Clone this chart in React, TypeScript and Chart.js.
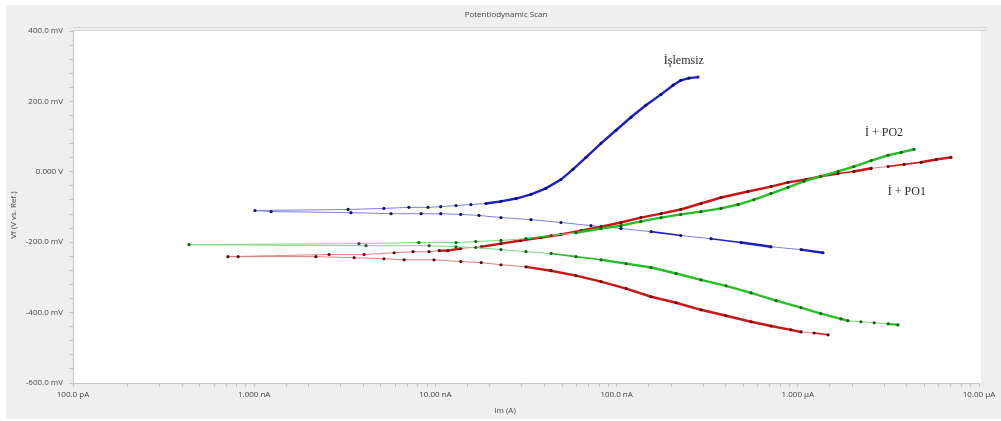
import { useEffect, useRef } from "react";
import { Chart, registerables } from "chart.js";

Chart.register(...registerables);

const chartTitle = "Potentiodynamic Scan";
const xAxisTitle = "Im (A)";
const yAxisTitle = "Vf (V vs. Ref.)";

const xTickLabels = ["100.0 pA", "1.000 nA", "10.00 nA", "100.0 nA", "1.000 µA", "10.00 µA"];
const yTickValues = [-600, -400, -200, 0, 200, 400];
const yTickLabels = ["-600.0 mV", "-400.0 mV", "-200.0 mV", "0.000 V", "200.0 mV", "400.0 mV"];

const seriesNames = ["İşlemsiz", "İ + PO1", "İ + PO2"];

// İşlemsiz (blue): current in A, potential in mV, in scan order
const untreatedCurrent = [
  1.377e-6, 1.042e-6, 7.11e-7, 4.86e-7, 3.32e-7, 2.26e-7, 1.55e-7, 1.057e-7, 7.22e-8, 4.93e-8,
  3.37e-8, 2.3e-8, 1.74e-8, 1.38e-8, 1.07e-8, 8.34e-9, 5.69e-9, 3.42e-9, 1.24e-9, 1.01e-9,
  3.3e-9, 5.2e-9, 7.14e-9, 9.1e-9, 1.07e-8, 1.3e-8, 1.57e-8, 1.9e-8, 2.3e-8, 2.79e-8,
  3.37e-8, 4.07e-8, 4.93e-8, 5.74e-8, 6.78e-8, 8.2e-8, 9.93e-8, 1.2e-7, 1.45e-7, 1.76e-7,
  2.05e-7, 2.26e-7, 2.51e-7, 2.81e-7,
];
const untreatedPotential = [
  -230, -221, -213, -201, -190, -181, -170, -161, -153, -144,
  -136, -130, -124, -121, -119, -119, -119, -116, -113, -110,
  -107, -104, -101, -101, -99, -96, -93, -90, -84, -76,
  -64, -47, -22, 7, 41, 81, 118, 155, 189, 220,
  246, 260, 266, 269,
];

// İ + PO1 (red)
const po1Current = [
  1.47e-6, 1.23e-6, 1.042e-6, 9.16e-7, 7.11e-7, 5.52e-7, 4.02e-7, 2.92e-7, 2.13e-7, 1.55e-7,
  1.13e-7, 8.2e-8, 5.97e-8, 4.35e-8, 3.16e-8, 2.3e-8, 1.79e-8, 1.38e-8, 9.82e-9, 6.72e-9,
  5.2e-9, 3.56e-9, 2.19e-9, 8.15e-10, 7.16e-10,
  2.59e-9, 4.04e-9, 5.92e-9, 7.52e-9, 9.23e-9, 1.05e-8, 1.17e-8, 1.38e-8, 1.79e-8, 2.3e-8,
  2.96e-8, 3.83e-8, 4.93e-8, 6.37e-8, 8.2e-8, 1.057e-7, 1.36e-7, 1.76e-7, 2.26e-7, 2.92e-7,
  3.77e-7, 5.31e-7, 7.11e-7, 8.83e-7, 1.11e-6, 1.34e-6, 1.67e-6, 2.04e-6, 2.54e-6, 3.15e-6,
  3.86e-6, 4.79e-6, 5.8e-6, 7.0e-6,
];
const po1Potential = [
  -463, -458, -455, -449, -438, -426, -409, -392, -372, -355,
  -332, -312, -295, -281, -270, -264, -258, -255, -250, -250,
  -247, -244, -241, -241, -241,
  -235, -235, -230, -227, -227, -224, -224, -218, -213, -204,
  -195, -187, -178, -167, -156, -144, -130, -119, -107, -90,
  -73, -56, -42, -30, -22, -13, -5, 1, 10, 15,
  21, 27, 35, 41,
];

// İ + PO2 (green)
const po2Current = [
  3.57e-6, 3.15e-6, 2.64e-6, 2.23e-6, 1.89e-6, 1.73e-6, 1.34e-6, 1.042e-6, 7.59e-7, 5.52e-7,
  4.02e-7, 2.92e-7, 2.13e-7, 1.55e-7, 1.13e-7, 8.2e-8, 5.97e-8, 4.35e-8, 3.16e-8, 2.3e-8,
  1.67e-8, 1.3e-8, 9.23e-9, 4.14e-9, 4.37e-10,
  3.79e-9, 8.11e-9, 1.3e-8, 1.67e-8, 2.3e-8, 3.16e-8, 4.35e-8, 5.97e-8, 8.2e-8, 1.057e-7,
  1.36e-7, 1.76e-7, 2.26e-7, 2.92e-7, 3.77e-7, 4.68e-7, 5.73e-7, 7.11e-7, 8.83e-7, 1.08e-6,
  1.34e-6, 1.67e-6, 2.04e-6, 2.54e-6, 3.15e-6, 3.72e-6, 4.38e-6,
];
const po2Potential = [
  -435, -432, -429, -426, -423, -418, -403, -386, -366, -344,
  -324, -307, -289, -272, -261, -250, -241, -232, -227, -221,
  -215, -213, -210, -210, -207,
  -204, -201, -201, -198, -195, -190, -181, -173, -161, -153,
  -141, -130, -121, -113, -104, -93, -79, -62, -44, -27,
  -13, 1, 15, 32, 47, 55, 64,
];

// curve labels placed in data space
const labelCurrents = [2.35e-7, 4.0e-6, 2.99e-6];
const labelPotentials = [314, -56, 112];

// segment density class: 0 = sparse (flat, near Ecorr), 1 = medium, 2 = dense
const density = (c: any) => {
  const dx = Math.abs(c.p1.x - c.p0.x);
  const dy = Math.abs(c.p1.y - c.p0.y);
  if (dx > 40) return 0;
  if (dx <= 10) return 2;
  const s = dy / dx;
  if (s < 0.12) return 0;
  if (s < 0.135) return 1;
  return 2;
};

function makeSet(label: string, I: number[], E: number[], line: string, light: string, dot: string) {
  return {
    label,
    data: I.map((x, i) => ({ x, y: E[i] })),
    showLine: true,
    borderColor: line,
    backgroundColor: dot,
    borderWidth: 2.4,
    pointRadius: 1.6,
    pointBackgroundColor: dot,
    pointBorderColor: dot,
    pointBorderWidth: 0,
    pointHoverRadius: 1.6,
    tension: 0,
    segment: {
      borderWidth: (c: any) => [1, 1.6, 2.4][density(c)],
      borderColor: (c: any) => (density(c) === 0 ? light : line),
    },
  };
}

const FONT = "'Open Sans', 'Liberation Sans', sans-serif";

const decorPlugin = {
  id: "decor",
  beforeDraw(chart: any) {
    const { ctx, chartArea: a, width, height } = chart;
    ctx.save();
    ctx.fillStyle = "#ffffff";
    ctx.fillRect(0, 0, width, height);
    ctx.fillStyle = "#efefef";
    ctx.fillRect(6, 5, width - 6, height - 7);
    ctx.fillStyle = "#ffffff";
    ctx.fillRect(a.left, a.top, a.right - a.left + 2, a.bottom - a.top);
    ctx.fillStyle = "#d6d6d6";
    ctx.fillRect(a.left, a.top - 4, a.right - a.left + 8, 1);
    ctx.fillRect(a.left, a.top - 1, a.right - a.left + 8, 1);
    ctx.restore();
  },
  afterDatasetsDraw(chart: any) {
    const { ctx, scales } = chart;
    ctx.save();
    ctx.fillStyle = "#2a2a2a";
    ctx.font = "12px 'Liberation Serif', 'DejaVu Serif', serif";
    ctx.textAlign = "center";
    ctx.textBaseline = "middle";
    seriesNames.forEach((name, i) => {
      const px = scales.x.getPixelForValue(labelCurrents[i]);
      const py = scales.y.getPixelForValue(labelPotentials[i]);
      ctx.fillText(name, px, py);
    });
    ctx.restore();
  },
  afterDraw(chart: any) {
    const { ctx } = chart;
    ctx.save();
    ctx.fillStyle = "#444";
    ctx.font = `8px ${FONT}`;
    ctx.textAlign = "center";
    ctx.textBaseline = "middle";
    ctx.fillText(chartTitle, 506, 15);
    ctx.fillText(xAxisTitle, 505, 411);
    ctx.translate(14, 215);
    ctx.rotate(-Math.PI / 2);
    ctx.fillText(yAxisTitle, 0, 0);
    ctx.restore();
  },
};

export default function App() {
  const ref = useRef<HTMLCanvasElement | null>(null);
  useEffect(() => {
    if (!ref.current) return;
    const chart = new Chart(ref.current, {
      type: "scatter",
      data: {
        datasets: [
          makeSet(seriesNames[2], po2Current, po2Potential, "#22c022", "#7ed87e", "#166016") as any,
          makeSet(seriesNames[1], po1Current, po1Potential, "#cc1414", "#e58080", "#5a0c0c") as any,
          makeSet(seriesNames[0], untreatedCurrent, untreatedPotential, "#1e1ec4", "#8080e0", "#12126a") as any,
        ],
      },
      options: {
        responsive: false,
        animation: false,
        layout: { padding: { left: 0, top: 31, right: 22, bottom: 0 } },
        plugins: {
          legend: { display: false },
          tooltip: { enabled: false },
          title: { display: false },
        },
        scales: {
          x: {
            type: "logarithmic",
            min: 1e-10,
            max: 1e-5,
            border: { color: "#c4c4c4" },
            grid: { display: true, drawOnChartArea: false, drawTicks: true, tickLength: 4, color: "#c4c4c4" },
            ticks: {
              autoSkip: false,
              maxRotation: 0,
              padding: 3,
              color: "#444",
              font: { size: 8, family: FONT },
              callback: (v: any) => {
                const l = Math.log10(Number(v));
                const r = Math.round(l);
                if (Math.abs(l - r) < 1e-6) {
                  const idx = r + 10;
                  return xTickLabels[idx] ?? "";
                }
                return "";
              },
            },
            afterFit: (s: any) => {
              s.height = 38;
            },
          },
          y: {
            type: "linear",
            min: -600,
            max: 400,
            border: { color: "#c4c4c4" },
            grid: { display: true, drawOnChartArea: false, drawTicks: true, tickLength: 4, color: "#c4c4c4" },
            ticks: {
              stepSize: 40,
              autoSkip: false,
              padding: 6,
              color: "#444",
              font: { size: 8, family: FONT },
              callback: (v: any) => {
                const idx = yTickValues.indexOf(Math.round(Number(v)));
                return idx >= 0 ? yTickLabels[idx] : "";
              },
            },
            afterFit: (s: any) => {
              s.width = 73;
            },
          },
        },
      },
      plugins: [decorPlugin],
    });
    return () => chart.destroy();
  }, []);
  return (
    <div style={{ position: "fixed", left: 0, top: 0, width: 1001, height: 421 }}>
      <canvas ref={ref} width={1001} height={421} style={{ display: "block" }} />
    </div>
  );
}
